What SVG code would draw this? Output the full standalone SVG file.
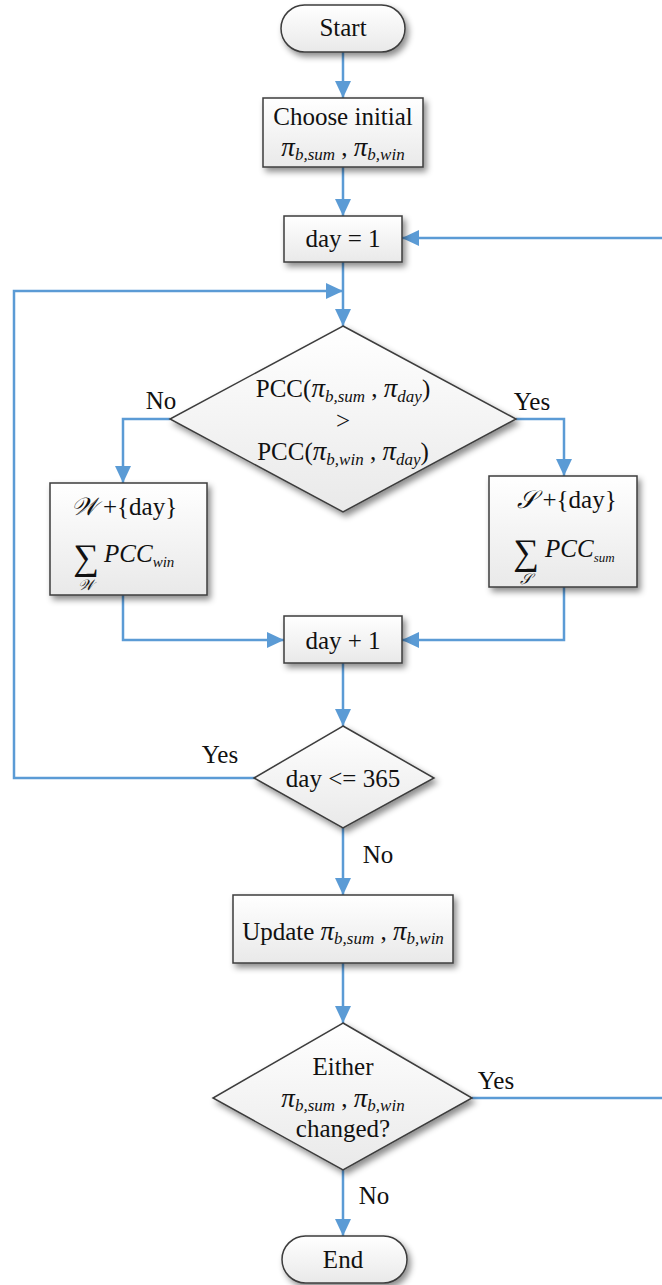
<svg xmlns="http://www.w3.org/2000/svg" width="662" height="1285" viewBox="0 0 662 1285">
  <defs>
    <linearGradient id="fillGrad" x1="0" y1="0" x2="0" y2="1">
      <stop offset="0" stop-color="#ffffff"/>
      <stop offset="1" stop-color="#e9e9e9"/>
    </linearGradient>
    <filter id="shadow" x="-20%" y="-20%" width="150%" height="150%">
      <feDropShadow dx="3" dy="4" stdDeviation="3" flood-color="#000" flood-opacity="0.45"/>
    </filter>
    <marker id="arrow" markerUnits="userSpaceOnUse" markerWidth="17" markerHeight="16" refX="17" refY="8" orient="auto">
      <path d="M0,0 L17,8 L0,16 z" fill="#5b9bd5"/>
    </marker>
  </defs>
  <style>
    .node { fill: url(#fillGrad); stroke: #3c3c3c; stroke-width: 1.5; filter: url(#shadow); }
    .conn { fill: none; stroke: #5b9bd5; stroke-width: 2.5; }
    .arr { marker-end: url(#arrow); }
    text { font-family: "Liberation Serif", "Times New Roman", serif; font-size: 25px; fill: #111; }
    .mid { text-anchor: middle; }
    .it { font-style: italic; }
    .pi { font-style: italic; font-size: 27px; }
    .sub { font-style: italic; font-size: 17px; }
    .sum { font-size: 36px; }
    .scr { font-family: "Liberation Serif", "DejaVu Serif", "DejaVu Sans", "Noto Sans", serif; font-style: italic; }
  </style>

  <!-- connectors -->
  <g id="connectors">
    <path class="conn arr" d="M343,52 V98"/>
    <path class="conn arr" d="M343,167 V216"/>
    <path class="conn arr" d="M472,1098 H664 V238 H402"/>
    <path class="conn arr" d="M343,262 V326"/>
    <path class="conn arr" d="M255,778 H14 V291 H343"/>
    <path class="conn arr" d="M170,419 H123 V483"/>
    <path class="conn arr" d="M516,419 H564 V476"/>
    <path class="conn arr" d="M123,595 V640 H284"/>
    <path class="conn arr" d="M564,587 V640 H402"/>
    <path class="conn arr" d="M343,663 V726"/>
    <path class="conn arr" d="M343,828 V895"/>
    <path class="conn arr" d="M343,963 V1023"/>
    <path class="conn arr" d="M343,1170 V1236"/>
    <text x="161" y="409" class="mid">No</text>
    <text x="532" y="410" class="mid">Yes</text>
    <text x="220" y="763" class="mid">Yes</text>
    <text x="378" y="863" class="mid">No</text>
    <text x="496" y="1089" class="mid">Yes</text>
    <text x="374" y="1204" class="mid">No</text>
  </g>

  <g id="start">
    <rect class="node" x="281" y="5" width="124" height="47" rx="23.5"/>
    <text x="343" y="36" class="mid">Start</text>
  </g>

  <g id="choose-initial">
    <rect class="node" x="263" y="98" width="160" height="69"/>
    <text x="343" y="125" class="mid">Choose initial</text>
    <text x="343" y="156" class="mid"><tspan class="pi">π</tspan><tspan class="sub" dy="4">b,sum</tspan><tspan dy="-4"> , </tspan><tspan class="pi">π</tspan><tspan class="sub" dy="4">b,win</tspan></text>
  </g>

  <g id="day-init">
    <rect class="node" x="284" y="216" width="118" height="46"/>
    <text x="343" y="247" class="mid">day = 1</text>
  </g>

  <g id="compare-pcc">
    <polygon class="node" points="343,326 516,419 343,512 170,419"/>
    <text x="343" y="397" class="mid">PCC(<tspan class="pi">π</tspan><tspan class="sub" dy="5">b,sum</tspan><tspan dy="-5"> , </tspan><tspan class="pi">π</tspan><tspan class="sub" dy="5">day</tspan><tspan dy="-5">)</tspan></text>
    <text x="343" y="429" class="mid">&gt;</text>
    <text x="343" y="460" class="mid">PCC(<tspan class="pi">π</tspan><tspan class="sub" dy="5">b,win</tspan><tspan dy="-5"> , </tspan><tspan class="pi">π</tspan><tspan class="sub" dy="5">day</tspan><tspan dy="-5">)</tspan></text>
  </g>

  <g id="winter-set">
    <rect class="node" x="50" y="483" width="157" height="112"/>
    <text x="124" y="515" class="mid"><tspan class="scr">𝒲</tspan> +{day}</text>
    <text x="86" y="569" class="mid sum">∑</text>
    <text x="104" y="562" class="it">PCC<tspan class="sub" style="font-size:15px" dy="5">win</tspan></text>
    <text x="86" y="590" class="mid scr" style="font-size:15px">𝒲</text>
  </g>

  <g id="summer-set">
    <rect class="node" x="489" y="476" width="148" height="111"/>
    <text x="526" y="564" class="mid sum">∑</text>
    <text x="567" y="508" class="mid"><tspan class="scr">𝒮</tspan> +{day}</text>
    <text x="545" y="557" class="it">PCC<tspan class="sub" style="font-size:13px" dy="5">sum</tspan></text>
    <text x="526" y="584" class="mid scr" style="font-size:15px">𝒮</text>
  </g>

  <g id="day-next">
    <rect class="node" x="284" y="616" width="118" height="47"/>
    <text x="343" y="649" class="mid">day + 1</text>
  </g>

  <g id="day-check">
    <polygon class="node" points="343,726 434,778 343,828 254,778"/>
    <text x="343" y="787" class="mid">day &lt;= 365</text>
  </g>

  <g id="update">
    <rect class="node" x="233" y="895" width="220" height="68"/>
    <text x="343" y="940" class="mid">Update <tspan class="pi">π</tspan><tspan class="sub" dy="4">b,sum</tspan><tspan dy="-4"> , </tspan><tspan class="pi">π</tspan><tspan class="sub" dy="4">b,win</tspan></text>
  </g>

  <g id="changed-check">
    <polygon class="node" points="343,1023 472,1098 343,1170 213,1098"/>
    <text x="343" y="1075" class="mid">Either</text>
    <text x="343" y="1107" class="mid"><tspan class="pi">π</tspan><tspan class="sub" dy="4">b,sum</tspan><tspan dy="-4"> , </tspan><tspan class="pi">π</tspan><tspan class="sub" dy="4">b,win</tspan></text>
    <text x="343" y="1137" class="mid">changed?</text>
  </g>

  <g id="end">
    <rect class="node" x="282" y="1236" width="125" height="47" rx="23.5"/>
    <text x="343" y="1268" class="mid">End</text>
  </g>
</svg>
